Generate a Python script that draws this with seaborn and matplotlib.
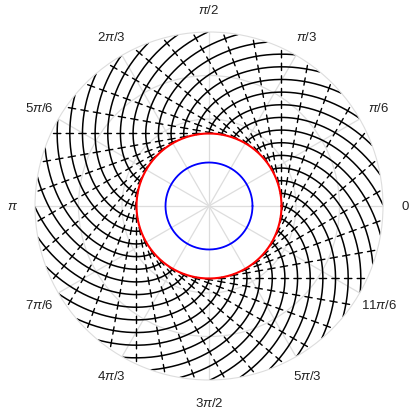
import numpy as np
import pandas as pd
import matplotlib
matplotlib.use("Agg")
import matplotlib.pyplot as plt
import seaborn as sns

# circles (radial units)
blue_r = 1.0
red_r = 5 / 3
r_max = 4.0
r_grid = [1, 2, 3]

# involutes of the red circle, one every 10 degrees
n_curves = 36
mark_len = 0.17
angle_labels = [r'$0$', r'$\pi/6$', r'$\pi/3$', r'$\pi/2$', r'$2\pi/3$', r'$5\pi/6$',
                r'$\pi$', r'$7\pi/6$', r'$4\pi/3$', r'$3\pi/2$', r'$5\pi/3$', r'$11\pi/6$']

sns.set_style('white')
plt.rcParams['font.family'] = ['Liberation Sans', 'DejaVu Sans']
plt.rcParams['mathtext.fontset'] = 'custom'
plt.rcParams['mathtext.rm'] = 'Liberation Sans'
plt.rcParams['mathtext.it'] = 'Liberation Sans:italic'

fig = plt.figure(figsize=(4.15, 4.14), dpi=100)
ax = fig.add_axes([35 / 415, 33 / 414, 348 / 415, 348 / 414], projection='polar')

step = 2 * np.pi / n_curves
u_max = np.sqrt((r_max / red_r) ** 2 - 1)
u = np.linspace(0, u_max, 200)

rows = []
for i in range(n_curves):
    start = i * step
    theta = start - u + np.arctan(u)
    r = red_r * np.sqrt(1 + u ** 2)
    rows.append(pd.DataFrame({'theta': theta, 'r': r, 'curve': i}))
curves = pd.concat(rows, ignore_index=True)

sns.lineplot(data=curves, x='theta', y='r', units='curve', estimator=None,
             sort=False, color='black', lw=1.1, ax=ax)

# short marks along the normals (tangent lines of the red circle)
half = mark_len / (2 * red_r)
n_marks = int(np.floor(u_max / step))
mt, mr = [], []
for i in range(n_curves):
    for k in range(1, n_marks + 1):
        uk = k * step
        phi = i * step - uk
        for w in (uk - half, uk + half):
            mt.append(phi + np.arctan(w))
            mr.append(red_r * np.sqrt(1 + w ** 2))
        mt.append(np.nan)
        mr.append(np.nan)
ax.plot(mt, mr, color='black', lw=1.0)

circ = np.linspace(0, 2 * np.pi, 400)
sns.lineplot(x=circ, y=np.full_like(circ, red_r), sort=False, estimator=None,
             color='red', lw=1.5, ax=ax)
sns.lineplot(x=circ, y=np.full_like(circ, blue_r), sort=False, estimator=None,
             color='blue', lw=1.3, ax=ax)

ax.set_ylim(0, r_max)
ax.set_rticks(r_grid)
ax.set_yticklabels([])
ax.set_xticks(np.arange(12) * np.pi / 6)
ax.set_xticklabels(angle_labels, fontsize=9.5, color='#222222')
ax.tick_params(axis='x', pad=5.5)
ax.grid(True, color='#dddddd', lw=0.9)
ax.spines['polar'].set_color('#dddddd')
ax.set_xlabel('')
ax.set_ylabel('')

fig.savefig('out.png', dpi=100)
